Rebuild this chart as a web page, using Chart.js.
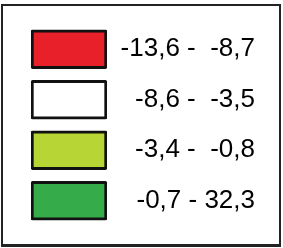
<!DOCTYPE html>
<html>
<head>
<meta charset="utf-8">
<script src="https://cdn.jsdelivr.net/npm/chart.js@4/dist/chart.umd.min.js"></script>
<style>
  html, body { margin: 0; padding: 0; background: #fff; }
  #wrap { position: relative; width: 283px; height: 248px; }
  #frame {
    position: absolute; left: 1px; top: 4px; width: 276px; height: 238px;
    border: 2px solid #222; border-bottom-width: 3px;
  }
  #chart-legenda { position: absolute; left: 0; top: 0; }
</style>
</head>
<body>
<div id="wrap">
  <div id="frame"></div>
  <canvas id="chart-legenda" width="283" height="248"></canvas>
</div>
<script>
// Classes da legenda
var classes = ['-13,6 -  -8,7', '-8,6 -  -3,5', '-3,4 -  -0,8', '-0,7 - 32,3'];
var cores = ['#e8202a', '#ffffff', '#b7d535', '#36ab4a'];
var caixas = [[0, 1], [0, 1], [0, 1], [0, 1]];

new Chart(document.getElementById('chart-legenda'), {
    type: 'bar',
    data: {
        labels: classes,
        datasets: [{
            data: caixas,
            backgroundColor: cores,
            borderColor: '#111',
            borderWidth: 3,
            borderSkipped: false,
            borderRadius: 2,
            barThickness: 39
        }]
    },
    options: {
        indexAxis: 'y',
        responsive: false,
        animation: false,
        layout: { padding: { left: 31, top: 24, bottom: 22, right: 28 } },
        plugins: { legend: { display: false }, tooltip: { enabled: false } },
        scales: {
            x: { display: false, min: 0, max: 1 },
            y: {
                position: 'right',
                grid: { display: false, drawTicks: false },
                border: { display: false },
                afterFit: function(scale) { scale.width = 148; },
                ticks: {
                    color: '#000',
                    padding: 0,
                    crossAlign: 'far',
                    font: { family: "'Liberation Sans', Arial, sans-serif", size: 26 }
                }
            }
        }
    }
});
</script>
</body>
</html>
